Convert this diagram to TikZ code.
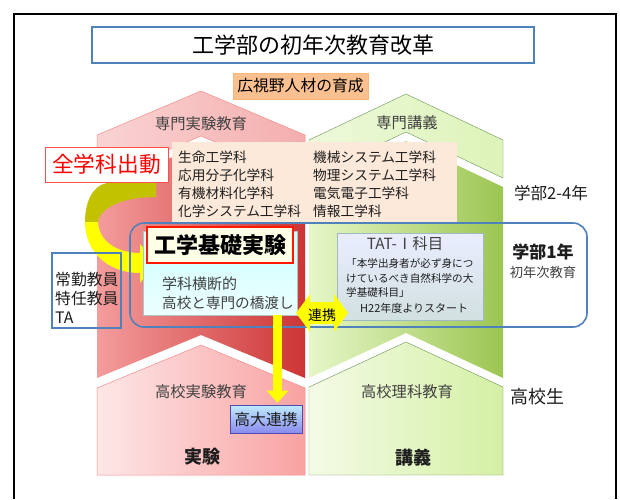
\documentclass[tikz,border=0pt]{standalone}
\usepackage{fontspec}
\setmainfont{Noto Sans CJK JP}
\usetikzlibrary{arrows.meta,positioning,calc}

\definecolor{txtgrey}{HTML}{404040}
\definecolor{txtdark}{HTML}{1E1E1E}
\definecolor{rimblue}{HTML}{4F81BD}
\definecolor{redcapL}{HTML}{FAD3D3}
\definecolor{redcapR}{HTML}{F4AEAE}
\definecolor{reddarkL}{HTML}{F49C9C}
\definecolor{reddarkM}{HTML}{EC7E7E}
\definecolor{reddarkR}{HTML}{CC3535}
\definecolor{redbotL}{HTML}{FDE7E7}
\definecolor{redbotR}{HTML}{F9A2A2}
\definecolor{grncapL}{HTML}{EDF9DA}
\definecolor{grncapR}{HTML}{DDF3B8}
\definecolor{grndarkL}{HTML}{E6F7C8}
\definecolor{grndarkM}{HTML}{C6E58E}
\definecolor{grndarkR}{HTML}{9CC551}
\definecolor{grnbotL}{HTML}{F4FBE6}
\definecolor{grnbotR}{HTML}{D4F0A4}
\definecolor{peach}{HTML}{FDE9D9}
\definecolor{goalorange}{HTML}{FAC08F}
\definecolor{olive}{HTML}{C2C200}
\definecolor{arrowyellow}{HTML}{FFFF00}

\newcommand\jfs[1]{\fontsize{#1}{#1}\selectfont}

\begin{document}
\begin{tikzpicture}[x=1pt,y=-1pt,
  every node/.style={inner sep=0pt},
  colhead/.style={font=\jfs{15.3}, text=txtgrey},
  listtext/.style={font=\fontsize{13.7}{18}\selectfont, align=left, text=txtdark, anchor=west},
  sidelabel/.style={text=txtdark},
  bluerim/.style={draw=rimblue, line width=1.6pt}]

  \useasboundingbox (0,0) rectangle (620,499);
  \fill[white] (0,0) rectangle (620,499);

  % frame
  \draw[line width=2pt] (14,499) -- (14,14) -- (616,14) -- (616,499);

  % red column
  \shade[left color=redcapL, right color=redcapR, draw=redcapR!80!red, line width=0.5pt]
    (97,135) -- (201,91) -- (305,135) -- (305,180) -- (201,136) -- (97,180) -- cycle;
  \shade[left color=reddarkL, middle color=reddarkM, right color=reddarkR]
    (97,189) -- (201,145) -- (305,189) -- (305,378) -- (201,335) -- (97,378) -- cycle;
  \shade[left color=redbotL, right color=redbotR, draw=redbotR!85!red, line width=0.5pt]
    (97,388) -- (201,345) -- (305,388) -- (305,475) -- (97,475) -- cycle;

  % green column
  \shade[left color=grncapL, right color=grncapR, draw=grncapR!80!green!60!black, line width=0.4pt]
    (309,140) -- (406,94) -- (503,140) -- (503,178) -- (406,132) -- (309,178) -- cycle;
  \shade[left color=grndarkL, middle color=grndarkM, right color=grndarkR]
    (309,187) -- (406,141) -- (503,187) -- (503,378) -- (406,333) -- (309,378) -- cycle;
  \shade[left color=grnbotL, right color=grnbotR, draw=grnbotR!85!green!60!black, line width=0.4pt]
    (309,387) -- (406,342) -- (503,387) -- (503,475) -- (309,475) -- cycle;

  % title and goal
  \node[draw=rimblue, line width=2pt, fill=white, minimum width=442pt, minimum height=36pt,
    font=\jfs{22}] (title) at (313,45) {工学部の初年次教育改革};
  \node[draw=goalorange!85!orange, fill=goalorange, line width=0.6pt, minimum width=135pt,
    minimum height=26pt, font=\jfs{15.8}] (goal) at (300.5,86) {広視野人材の育成};

  \node[colhead] (senmonjikken) at (201,124) {専門実験教育};
  \node[colhead] (senmonkougi) at (407,123) {専門講義};

  % departments
  \node[fill=peach, minimum width=285pt, minimum height=81pt, anchor=north west] (depts) at (172,142) {};
  \node[listtext] (deptL) at (178,184) {生命工学科\\応用分子化学科\\有機材料化学科\\化学システム工学科};
  \node[listtext] (deptR) at (313,184) {機械システム工学科\\物理システム工学科\\電気電子工学科\\情報工学科};

  \node[draw=red!70!white, line width=0.9pt, fill=white, minimum width=123pt, minimum height=35pt,
    font=\jfs{21.7}, text=red] (zengaku) at (106.5,164.5) {全学科出動};

  % curved arrow
  \fill[olive] (156,183) -- (156,197) .. controls (125,197) and (101,206) .. (98,222)
    -- (85,222) .. controls (85,200) and (94,185) .. (107,183) -- cycle;
  \fill[arrowyellow] (85,222) .. controls (85,252) and (108,273) .. (140,273)
    -- (140,283) -- (156,263) -- (140,244) -- (140,253)
    .. controls (118,253) and (99,242) .. (98,222) -- cycle;

  % first year
  \node[bluerim, rounded corners=14pt, minimum width=457pt, minimum height=104pt] (year1) at (358.5,275) {};
  \node[top color=cyan!20!white, bottom color=cyan!7!white, draw=cyan!25!gray!60, line width=0.5pt,
    minimum width=154pt, minimum height=84pt] (bridge) at (220,273) {};
  \node[draw=red!80!orange, line width=2pt, fill=yellow!10!white, minimum width=146pt,
    minimum height=36pt, font=\bfseries\jfs{22}] (kiso) at (220,245) {工学基礎実験};
  \node[anchor=west, font=\jfs{15}, text=txtgrey] (oudan) at (162,284) {学科横断的};
  \node[anchor=west, font=\jfs{14.6}, text=txtgrey] (hashi) at (162,303) {高校と専門の橋渡し};

  \node[bluerim, line width=1.3pt, minimum width=69pt, minimum height=75pt] (staff) at (86.5,290.5) {};
  \node[anchor=west, align=left, font=\fontsize{15.8}{19}\selectfont, text=txtdark] (staffnames) at (55,298)
    {常勤教員\\特任教員\\TA};

  \node[top color=cyan!10!blue!8!white, bottom color=cyan!20!gray!30!white, draw=cyan!30!gray!70,
    line width=0.6pt, minimum width=146pt, minimum height=87pt] (tat) at (410,276.5) {};
  \node[font=\jfs{15.4}, text=txtgrey] (tattitle) at (405,244) {TAT-Ⅰ科目};
  \node[anchor=west, align=left, font=\fontsize{10.6}{14.5}\selectfont, text=txtdark] (tatbody) at (346,278)
    {「本学出身者が必ず身につ\\けているべき自然科学の大\\学基礎科目」};
  \node[anchor=west, font=\jfs{11}, text=txtdark] (tatstart) at (360,308) {H22年度よりスタート};

  % renkei
  \coordinate (renkeiL) at (296,313);
  \coordinate (renkeiR) at (348,313);
  \draw[arrowyellow, line width=22pt,
    {Triangle[width=37pt,length=14pt]}-{Triangle[width=37pt,length=14pt]}]
    (renkeiL) -- (renkeiR);
  \node[font=\jfs{14}, text=black] (renkei) at ($(renkeiL)!0.5!(renkeiR)+(0,2)$) {連携};

  % high school
  \node[colhead] (koukoujikken) at (201,392) {高校実験教育};
  \node[colhead] (koukourika) at (407,392) {高校理科教育};
  \node[font=\bfseries\jfs{18}, text=txtdark] (jikken) at (202,457) {実験};
  \node[font=\bfseries\jfs{18}, text=txtdark] (kougi) at (413,458) {講義};

  \node[top color=blue!30!cyan!25!white, bottom color=blue!45!white!85!gray, draw=blue!40!gray,
    line width=0.6pt, minimum width=72pt, minimum height=28pt, font=\jfs{15.8}, text=txtdark]
    (kodai) at (266,419) {高大連携};

  \coordinate (arrowx) at (277.5,0);
  \draw[arrowyellow, line width=9pt, -{Triangle[width=21pt,length=12pt]}, shorten >=2pt]
    (bridge.south -| arrowx) -- (kodai.north -| arrowx);

  % levels
  \node[sidelabel, font=\jfs{16.6}] (nen24) at (551,193) {学部2-4年};
  \node[sidelabel, font=\bfseries\jfs{17}] (nen1) at (543,252) {学部1年};
  \node[font=\jfs{13.3}, text=txtgrey] (shonenji) at (543,272) {初年次教育};
  \node[sidelabel, font=\jfs{18}] (koukousei) at (537,397) {高校生};
\end{tikzpicture}
\end{document}
